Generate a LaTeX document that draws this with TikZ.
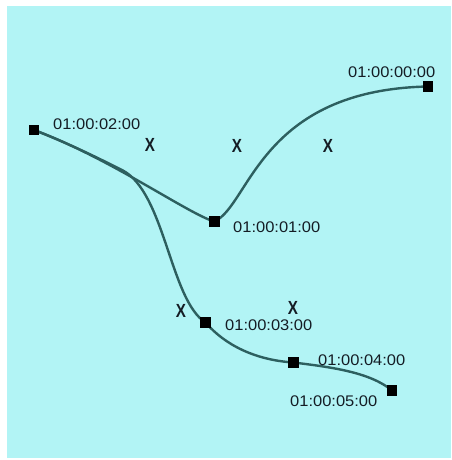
\documentclass[tikz,border=0pt]{standalone}
\usepackage{fontspec}
\setmainfont{Liberation Sans}
\newfontfamily\labfont[FakeStretch=1.07]{Liberation Sans}
\newfontfamily\xfont[FakeStretch=0.8]{Liberation Sans Bold}
\usetikzlibrary{backgrounds}
\definecolor{bgcyan}{RGB}{178,244,245}
\definecolor{curvecol}{RGB}{45,95,95}
\definecolor{txtcol}{RGB}{20,28,36}
\tikzset{
  keyframe/.style={draw=none,fill=black,minimum size=10.5pt,inner sep=0pt,outer sep=0pt},
  tclabel/.style={font=\labfont\fontsize{15.4}{16}\selectfont,text=txtcol,inner sep=0pt,anchor=west},
  handle/.style={font=\xfont\fontsize{19}{19}\selectfont,text=txtcol,inner sep=0pt},
  curve/.style={draw=curvecol,line width=2.4pt,line cap=round}
}
\begin{document}
\begin{tikzpicture}[x=1pt,y=-1pt]
\useasboundingbox (0,0) rectangle (451,460);
% key frames
\node[keyframe] (A) at (34,130) {};
\node[keyframe] (B) at (214.5,221.5) {};
\node[keyframe] (C) at (428,86.5) {};
\node[keyframe] (D) at (205.5,322.5) {};
\node[keyframe] (E) at (293.5,362.5) {};
\node[keyframe] (F) at (392,390.5) {};
% labels
\node[tclabel] (lA) at (53,124) {01:00:02:00};
\node[tclabel] (lB) at (233,227) {01:00:01:00};
\node[tclabel] (lC) at (348,72) {01:00:00:00};
\node[tclabel] (lD) at (225,325) {01:00:03:00};
\node[tclabel] (lE) at (318,360) {01:00:04:00};
\node[tclabel] (lF) at (290,401) {01:00:05:00};
% handles
\node[handle] (x1) at (150,145) {X};
\node[handle] (x2) at (237,146) {X};
\node[handle] (x3) at (328,146) {X};
\node[handle] (x4) at (181,311) {X};
\node[handle] (x5) at (293,307.5) {X};
\coordinate (jAD) at (122,170);
\begin{pgfonlayer}{background}
\fill[bgcyan] (7,6) rectangle (451,458);
\draw[curve] (A.center) .. controls (110,158) and (190,215) .. (B.center);
\draw[curve] (B.center) .. controls (250,205) and (260,90) .. (C.center);
\draw[curve] (A.center) .. controls (70,144) and (100,159) .. (jAD) .. controls (165,192) and (170,300) .. (D.center);
\draw[curve] (D.center) .. controls (225,345) and (255,360) .. (E.center);
\draw[curve] (E.center) .. controls (330,367) and (370,372) .. (F.center);
\end{pgfonlayer}
\end{tikzpicture}
\end{document}
